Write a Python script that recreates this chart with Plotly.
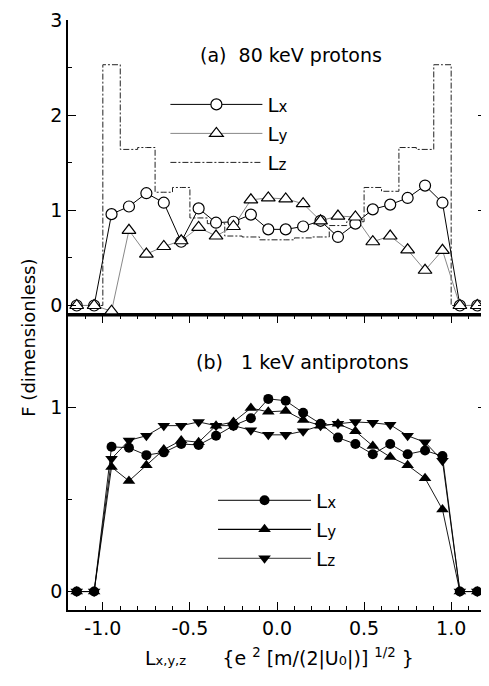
import plotly.graph_objects as go

# ---------------- data ----------------
L = [-1.15, -1.05, -0.95, -0.85, -0.75, -0.65, -0.55, -0.45, -0.35, -0.25, -0.15, -0.05,
     0.05, 0.15, 0.25, 0.35, 0.45, 0.55, 0.65, 0.75, 0.85, 0.95, 1.05, 1.15]

# (a) 80 keV protons
a_Lx = [0, 0, 0.96, 1.04, 1.18, 1.08, 0.67, 1.02, 0.87, 0.88, 0.955, 0.80,
        0.80, 0.83, 0.89, 0.72, 0.86, 1.01, 1.06, 1.13, 1.26, 1.08, 0, 0]
a_Ly = [0, 0, -0.06, 0.79, 0.54, 0.62, 0.68, 0.82, 0.73, 0.83, 1.11, 1.13,
        1.12, 1.07, 0.89, 0.94, 0.93, 0.67, 0.73, 0.585, 0.37, 0.58, 0, 0]
a_Lz = [0, 0, 2.53, 1.64, 1.66, 1.19, 1.24, 0.92, 0.86, 0.73, 0.72, 0.69,
        0.69, 0.71, 0.72, 0.84, 0.88, 1.24, 1.20, 1.66, 1.64, 2.53, 0, 0]

# (b) 1 keV antiprotons
b_Lx = [0, 0, 0.785, 0.78, 0.74, 0.755, 0.80, 0.795, 0.845, 0.90, 0.94, 1.045,
        1.035, 0.97, 0.91, 0.835, 0.80, 0.745, 0.80, 0.745, 0.765, 0.735, 0, 0]
b_Ly = [0, 0, 0.675, 0.60, 0.685, 0.77, 0.82, 0.81, 0.90, 0.92, 0.995, 0.975,
        0.98, 0.93, 0.90, 0.91, 0.87, 0.79, 0.73, 0.685, 0.615, 0.445, 0, 0]
b_Lz = [0, 0, 0.72, 0.82, 0.845, 0.90, 0.90, 0.92, 0.90, 0.90, 0.875, 0.85,
        0.85, 0.87, 0.90, 0.91, 0.92, 0.915, 0.905, 0.845, 0.81, 0.71, 0, 0]

x_tickvals = [-1.0, -0.5, 0.0, 0.5, 1.0]
x_ticktext = ["-1.0", "-0.5", "0.0", "0.5", "1.0"]
ya_tickvals = [0, 1, 2, 3]
ya_ticktext = ["0", "1", "2", "3"]
yb_tickvals = [0, 1]
yb_ticktext = ["0", "1"]

names = ["L<span style='font-size:15px'>x</span>",
         "L<span style='font-size:15px'>y</span>",
         "L<span style='font-size:15px'>z</span>"]

FONT = "DejaVu Sans"
fig = go.Figure()

# ---- panel (a): lines first ----
fig.add_trace(go.Scatter(x=L, y=a_Lz, mode="lines", line=dict(color="#222", width=1,
                         dash="6px,2px,2px,2px", shape="hvh"), showlegend=False,
                         xaxis="x", yaxis="y2"))
fig.add_trace(go.Scatter(x=L, y=a_Lx, mode="lines", line=dict(color="black", width=1),
                         showlegend=False, xaxis="x", yaxis="y2"))
fig.add_trace(go.Scatter(x=L, y=a_Ly, mode="lines", line=dict(color="#888", width=1),
                         showlegend=False, xaxis="x", yaxis="y2"))
fig.add_trace(go.Scatter(x=L, y=a_Lx, mode="markers",
                         marker=dict(symbol="circle", size=11, color="white",
                                     line=dict(color="black", width=1.2)),
                         showlegend=False, xaxis="x", yaxis="y2"))
fig.add_trace(go.Scatter(x=L, y=a_Ly, mode="markers",
                         marker=dict(symbol="triangle-up", size=12, color="white",
                                     line=dict(color="black", width=1.2)),
                         showlegend=False, xaxis="x", yaxis="y2"))

# ---- panel (b) ----
for ys in (b_Lz, b_Ly, b_Lx):
    fig.add_trace(go.Scatter(x=L, y=ys, mode="lines", line=dict(color="black", width=0.9),
                             showlegend=False, xaxis="x", yaxis="y"))
fig.add_trace(go.Scatter(x=L, y=b_Lx, mode="markers",
                         marker=dict(symbol="circle", size=10, color="black"),
                         showlegend=False, xaxis="x", yaxis="y"))
fig.add_trace(go.Scatter(x=L, y=b_Ly, mode="markers",
                         marker=dict(symbol="triangle-up", size=11, color="black"),
                         showlegend=False, xaxis="x", yaxis="y"))
fig.add_trace(go.Scatter(x=L, y=b_Lz, mode="markers",
                         marker=dict(symbol="triangle-down", size=11, color="black"),
                         showlegend=False, xaxis="x", yaxis="y"))

# ---- legend entries ----
fig.add_trace(go.Scatter(x=[None], y=[None], mode="lines+markers", name=names[0],
                         line=dict(color="black", width=1),
                         marker=dict(symbol="circle", size=11, color="white",
                                     line=dict(color="black", width=1.2)),
                         legend="legend", xaxis="x", yaxis="y2"))
fig.add_trace(go.Scatter(x=[None], y=[None], mode="lines+markers", name=names[1],
                         line=dict(color="#888", width=1),
                         marker=dict(symbol="triangle-up", size=12, color="white",
                                     line=dict(color="black", width=1.2)),
                         legend="legend", xaxis="x", yaxis="y2"))
fig.add_trace(go.Scatter(x=[None], y=[None], mode="lines", name=names[2],
                         line=dict(color="#222", width=1, dash="6px,2px,2px,2px"),
                         legend="legend", xaxis="x", yaxis="y2"))
fig.add_trace(go.Scatter(x=[None], y=[None], mode="lines+markers", name=names[0],
                         line=dict(color="black", width=1),
                         marker=dict(symbol="circle", size=10, color="black"),
                         legend="legend2", xaxis="x", yaxis="y"))
fig.add_trace(go.Scatter(x=[None], y=[None], mode="lines+markers", name=names[1],
                         line=dict(color="black", width=1.3),
                         marker=dict(symbol="triangle-up", size=11, color="black"),
                         legend="legend2", xaxis="x", yaxis="y"))
fig.add_trace(go.Scatter(x=[None], y=[None], mode="lines+markers", name=names[2],
                         line=dict(color="black", width=0.8),
                         marker=dict(symbol="triangle-down", size=11, color="black"),
                         legend="legend2", xaxis="x", yaxis="y"))

axis_common = dict(showline=True, linecolor="black", linewidth=1.5, mirror="ticks",
                   ticks="inside", tickcolor="black", showgrid=False, zeroline=False,
                   ticklabeloverflow="allow",
                   tickfont=dict(family=FONT, size=19, color="black"))

fig.update_layout(
    width=481, height=678,
    margin=dict(l=60, r=1, t=7, b=76),
    paper_bgcolor="white", plot_bgcolor="white",
    font=dict(family=FONT, color="black"),
    xaxis=dict(range=[-1.2, 1.2], tickvals=x_tickvals, ticktext=x_ticktext,
               ticklen=8, tickwidth=1.2, anchor="y",
               minor=dict(dtick=0.1, ticklen=4, ticks="inside", tickcolor="black", tickwidth=1),
               **axis_common),
    xaxis2=dict(range=[-1.2, 1.2], tickvals=x_tickvals, showticklabels=False,
                ticklen=8, tickwidth=1.2, anchor="y2", matches="x",
                minor=dict(dtick=0.1, ticklen=4, ticks="inside", tickcolor="black", tickwidth=1),
                **axis_common),
    yaxis=dict(domain=[0, 0.5], range=[-0.1, 1.5], tickvals=yb_tickvals, ticktext=yb_ticktext,
               ticklen=8, tickwidth=1.2, anchor="x",
               minor=dict(tickvals=[0.5], ticklen=4, ticks="inside", tickcolor="black", tickwidth=1),
               **axis_common),
    yaxis2=dict(domain=[0.5, 1], range=[-0.1, 3], tickvals=ya_tickvals, ticktext=ya_ticktext,
                ticklen=8, tickwidth=1.2, anchor="x2",
                minor=dict(tickvals=[0.5, 1.5, 2.5], ticklen=4, ticks="inside",
                           tickcolor="black", tickwidth=1),
                **axis_common),
    legend=dict(x=0.233, y=0.89, xanchor="left", yanchor="top", bgcolor="rgba(0,0,0,0)",
                itemwidth=92, font=dict(family=FONT, size=20, color="black"),
                tracegroupgap=0),
    legend2=dict(x=0.347, y=0.219, xanchor="left", yanchor="top", bgcolor="rgba(0,0,0,0)",
                 itemwidth=93, font=dict(family=FONT, size=20, color="black"),
                 tracegroupgap=0),
    shapes=[dict(type="line", xref="paper", yref="paper", x0=0, x1=1, y0=0.5, y1=0.5,
                 line=dict(color="black", width=3))],
    annotations=[
        dict(text="(a)  80 keV protons", xref="paper", yref="paper", x=0.533, y=0.941,
             xanchor="center", yanchor="middle",
             showarrow=False, font=dict(family=FONT, size=19, color="black")),
        dict(text="(b)   1 keV antiprotons", xref="paper", yref="paper", x=0.561, y=0.42,
             xanchor="center", yanchor="middle",
             showarrow=False, font=dict(family=FONT, size=19, color="black")),
        dict(text="F (dimensionless)", xref="paper", yref="paper", x=-0.095, y=0.462,
             xanchor="center", yanchor="middle", textangle=-90, showarrow=False,
             font=dict(family=FONT, size=18, color="black")),
        dict(text="L<span style='font-size:13px'>x,y,z</span>      {e <sup>2</sup> [m/(2|U<span style='font-size:13px'>0</span>|)] <sup>1/2</sup> }",
             xref="paper", yref="paper", x=0.505, y=-0.0807, xanchor="center", yanchor="middle",
             showarrow=False, font=dict(family=FONT, size=19, color="black")),
    ],
)

fig.write_html("out.html")
